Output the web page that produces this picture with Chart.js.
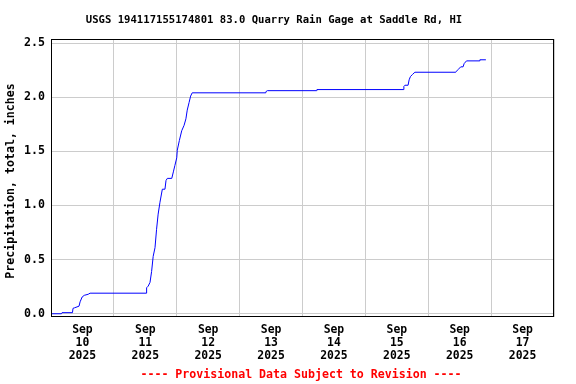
<!DOCTYPE html>
<html>
<head>
<meta charset="utf-8">
<script src="https://cdn.jsdelivr.net/npm/chart.js@4/dist/chart.umd.min.js"></script>
<style>
html,body{margin:0;padding:0;background:#fff;}
canvas{display:block;}
</style>
</head>
<body>
<canvas id="c" width="576" height="384"></canvas>
<script>
// Hours since Sep 10 2025 00:00 (local)
const hoursSinceSep10 = [
  0.0, 4.0, 4.2, 8.2, 8.4, 9.0, 10.7, 11.1, 11.9, 12.7, 14.2, 14.9,
  36.3, 36.5, 37.1, 37.8, 38.4, 39.0, 39.7, 40.3, 40.9, 41.6, 42.5, 43.5,
  43.9, 44.4, 46.1, 46.7, 47.3, 48.0, 48.2, 49.0, 49.9, 50.8, 51.5, 52.0,
  52.7, 53.3, 53.9, 81.7, 82.0, 82.6, 101.4, 101.5, 134.4, 134.7, 135.1,
  136.3, 136.7, 137.2, 138.0, 138.9, 154.5, 154.8, 155.4, 156.4, 157.3,
  157.7, 158.6, 163.4, 163.7, 166.0
];
// Cumulative precipitation, inches
const precipInches = [
  0.00, 0.00, 0.01, 0.01, 0.05, 0.055, 0.07, 0.11, 0.155, 0.17, 0.18, 0.19,
  0.19, 0.24, 0.255, 0.29, 0.39, 0.53, 0.61, 0.78, 0.92, 1.03, 1.15, 1.15,
  1.23, 1.25, 1.25, 1.31, 1.37, 1.44, 1.51, 1.60, 1.69, 1.74, 1.80, 1.88,
  1.95, 2.01, 2.04, 2.04, 2.05, 2.06, 2.06, 2.07, 2.07, 2.10, 2.11,
  2.11, 2.16, 2.19, 2.21, 2.23, 2.23, 2.24, 2.255, 2.28, 2.28,
  2.31, 2.335, 2.335, 2.345, 2.345
];
const dayNumbers = ['10','11','12','13','14','15','16','17'];
const monthLabel = 'Sep';
const yearLabel = '2025';
const yTickValues = [0, 0.5, 1.0, 1.5, 2.0, 2.5];
const titleText = 'USGS 194117155174801 83.0 Quarry Rain Gage at Saddle Rd, HI';
const footerText = '---- Provisional Data Subject to Revision ----';
const yAxisTitle = 'Precipitation, total, inches';

const FONT = "'DejaVu Sans Mono', 'Liberation Mono', monospace";
Chart.defaults.font.family = FONT;
Chart.defaults.font.weight = 'bold';
Chart.defaults.color = '#000';

const points = hoursSinceSep10.map((h, i) => ({x: h, y: precipInches[i]}));

const frame = {
  id: 'frame',
  afterDraw(chart) {
    const {ctx, chartArea: a} = chart;
    ctx.save();
    ctx.strokeStyle = '#000';
    ctx.lineWidth = 1;
    ctx.strokeRect(Math.round(a.left) + 0.5, Math.round(a.top) + 0.5,
      Math.round(a.right - a.left) - 1, Math.round(a.bottom - a.top) - 1);
    ctx.textAlign = 'center';
    ctx.textBaseline = 'middle';
    ctx.fillStyle = '#000';
    ctx.font = "bold 10.6px " + FONT;
    ctx.fillText(titleText, 274, 20);
    ctx.fillStyle = '#ff0000';
    ctx.font = "bold 11.6px " + FONT;
    ctx.fillText(footerText, 301, 375);
    ctx.fillStyle = '#000';
    ctx.translate(11, 181);
    ctx.rotate(-Math.PI / 2);
    ctx.fillText(yAxisTitle, 0, 0);
    ctx.restore();
  }
};

new Chart(document.getElementById('c'), {
  type: 'line',
  data: {
    datasets: [{
      data: points,
      borderColor: '#0000ff',
      borderWidth: 1,
      pointRadius: 0,
      tension: 0,
      fill: false
    }]
  },
  options: {
    responsive: false,
    animation: false,
    layout: {padding: {left: 0, right: 22, top: 39, bottom: 0}},
    plugins: {legend: {display: false}, title: {display: false}, tooltip: {enabled: false}},
    scales: {
      x: {
        type: 'linear',
        min: 0,
        max: 192,
        afterBuildTicks(scale) {
          const t = [];
          for (let i = 0; i <= 16; i++) t.push({value: i * 12});
          scale.ticks = t;
        },
        afterFit(scale) { scale.height = 67; },
        ticks: {
          autoSkip: false,
          maxRotation: 0,
          padding: 7,
          font: {size: 11.4, weight: 'bold', lineHeight: 1.14},
          callback(v) {
            if (v % 24 === 12) {
              const d = Math.floor(v / 24);
              return [monthLabel, dayNumbers[d], yearLabel];
            }
            return '';
          }
        },
        grid: {
          drawTicks: false,
          color: (c) => (c.tick && c.tick.value % 24 === 0) ? '#cccccc' : 'rgba(0,0,0,0)',
          lineWidth: 1
        },
        border: {display: false}
      },
      y: {
        type: 'linear',
        min: -0.03,
        max: 2.537,
        afterBuildTicks(scale) { scale.ticks = yTickValues.map(v => ({value: v})); },
        afterFit(scale) { scale.width = 51; },
        ticks: {
          padding: 6,
          font: {size: 11.6, weight: 'bold'},
          callback: (v) => Number(v).toFixed(1)
        },
        grid: {drawTicks: false, color: '#cccccc', lineWidth: 1},
        border: {display: false}
      }
    }
  },
  plugins: [frame]
});
</script>
</body>
</html>
